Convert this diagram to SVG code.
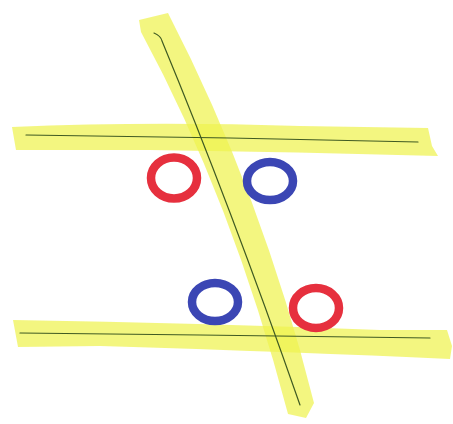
<svg xmlns="http://www.w3.org/2000/svg" width="453" height="424" viewBox="0 0 453 424">
<style>
.hl{fill:#eef24f;fill-opacity:0.72;stroke:none}
.pen{fill:none;stroke:#3f5a22;stroke-width:1.2;stroke-linecap:round}
.ring{fill:none;stroke-width:8.5}
.red{stroke:#e6303e}
.blue{stroke:#3b46b4}
</style>
<rect width="453" height="424" fill="#ffffff"/>
<g id="highlights">
<path class="hl" d="M12,127 Q150,121 300,126 L428,128 L432,146 L438,156 Q300,152 150,150 L16,150 Z"/>
<path class="hl" d="M13,320 Q200,323 380,330 L447,330 L452,346 L450,359 Q300,352 100,346 L18,347 Z"/>
<path class="hl" d="M139,20 L168,13 Q262,195 314,403 L306,418 L288,414 Q232,200 141,32 Z"/>
</g>
<g id="lines">
<path class="pen" d="M26,135 L230,138 L418,142"/>
<path class="pen" d="M20,333 L200,335 L430,338"/>
<path class="pen" d="M154,33 Q161,36 162,41 Q230,205 300,405"/>
</g>
<g id="angles">
<ellipse class="ring red" cx="174" cy="178" rx="23" ry="20.5"/>
<ellipse class="ring blue" cx="270" cy="181" rx="23" ry="19"/>
<ellipse class="ring blue" cx="215" cy="302" rx="23" ry="19"/>
<ellipse class="ring red" cx="316" cy="308" rx="23" ry="20"/>
</g>
</svg>
